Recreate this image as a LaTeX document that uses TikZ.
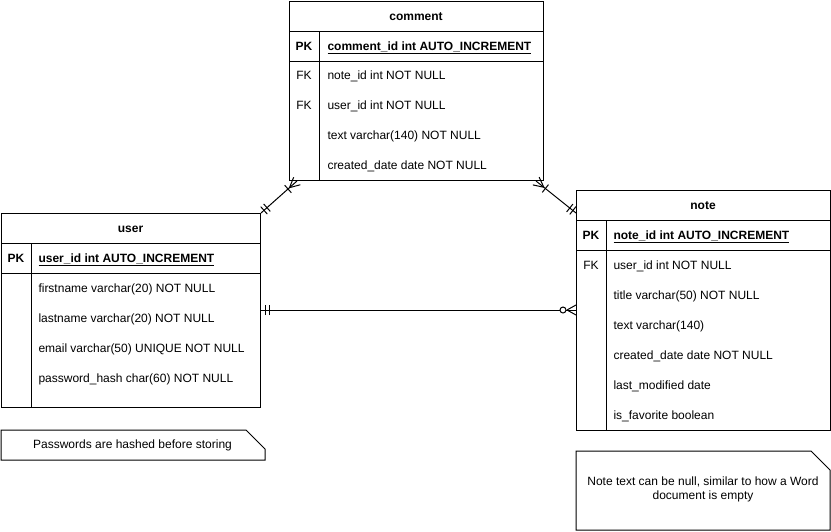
\documentclass[tikz,border=0pt]{standalone}
\usepackage{fontspec}
\setmainfont{Liberation Sans}
\usetikzlibrary{calc,decorations.markings}
\tikzset{
  tbox/.style={draw, line width=1pt, inner sep=0pt, anchor=north west},
  fld/.style={anchor=base west, inner sep=0pt},
  keylbl/.style={anchor=base, inner sep=0pt},
  hdr/.style={anchor=base, inner sep=0pt, font=\fontsize{12pt}{14pt}\selectfont\bfseries},
  notetxt/.style={anchor=base, inner sep=0pt, align=center},
  conn/.style={line width=1pt},
  mandone start/.style={postaction={decorate, decoration={markings,
      mark=at position 4pt with {\draw[line width=1pt] (0pt,-5pt) -- (0pt,5pt);},
      mark=at position 8pt with {\draw[line width=1pt] (0pt,-5pt) -- (0pt,5pt);}}}},
  onemany end/.style={postaction={decorate, decoration={markings,
      mark=at position -12pt with {\draw[line width=1pt] (0pt,-5pt) -- (0pt,5pt);},
      mark=at position -10pt with {\draw[line width=1pt] (0pt,0pt) -- (10pt,5pt) (0pt,0pt) -- (10pt,-5pt);}}}},
  zeromany end/.style={postaction={decorate, decoration={markings,
      mark=at position -13pt with {\draw[line width=1pt, fill=white] (0pt,0pt) circle[radius=3pt];},
      mark=at position -9pt with {\draw[line width=1pt] (0pt,0pt) -- (9pt,5pt) (0pt,0pt) -- (9pt,-5pt);}}}},
}
\begin{document}
\begin{tikzpicture}[x=1pt, y=-1pt, line width=1pt, font=\fontsize{12pt}{14pt}\selectfont]
\useasboundingbox (0,0) rectangle (831,531);

% ---------- comment table ----------
\node[tbox, minimum width=254pt, minimum height=179pt] (comment) at (289,1) {};
\draw (289,31) -- (543,31);
\draw (289,61) -- (543,61);
\draw (319,31) -- (319,180);
\node[hdr] (commenthdr) at (416,20.3) {comment};
\node[keylbl, font=\fontsize{12pt}{14pt}\selectfont\bfseries] (cpk) at (304,50.3) {PK};
\node[fld, font=\fontsize{12pt}{14pt}\selectfont\bfseries] (cf0) at (327,50.3) {\underline{comment\_id int AUTO\_INCREMENT}};
\node[keylbl] (cfk1) at (304,79.3) {FK};
\node[fld] (cf1) at (327,79.3) {note\_id int NOT NULL};
\node[keylbl] (cfk2) at (304,109.3) {FK};
\node[fld] (cf2) at (327,109.3) {user\_id int NOT NULL};
\node[fld] (cf3) at (327,139.3) {text varchar(140) NOT NULL};
\node[fld] (cf4) at (327,169.3) {created\_date date NOT NULL};

% ---------- user table ----------
\node[tbox, minimum width=259pt, minimum height=194pt] (user) at (1,213) {};
\draw (1,243) -- (260,243);
\draw (1,273) -- (260,273);
\draw (31,243) -- (31,407);
\node[hdr] (userhdr) at (130.5,232.3) {user};
\node[keylbl, font=\fontsize{12pt}{14pt}\selectfont\bfseries] (upk) at (16,262.3) {PK};
\node[fld, font=\fontsize{12pt}{14pt}\selectfont\bfseries] (uf0) at (38,262.3) {\underline{user\_id int AUTO\_INCREMENT}};
\node[fld] (uf1) at (38,292.3) {firstname varchar(20) NOT NULL};
\node[fld] (uf2) at (38,322.3) {lastname varchar(20) NOT NULL};
\node[fld] (uf3) at (38,352.3) {email varchar(50) UNIQUE NOT NULL};
\node[fld] (uf4) at (38,382.3) {password\_hash char(60) NOT NULL};

% ---------- note table ----------
\node[tbox, minimum width=254pt, minimum height=240pt] (note) at (576,190) {};
\draw (576,220) -- (830,220);
\draw (576,250) -- (830,250);
\draw (606,220) -- (606,430);
\node[hdr] (notehdr) at (703,209.3) {note};
\node[keylbl, font=\fontsize{12pt}{14pt}\selectfont\bfseries] (npk) at (591,239.3) {PK};
\node[fld, font=\fontsize{12pt}{14pt}\selectfont\bfseries] (nf0) at (613,239.3) {\underline{note\_id int AUTO\_INCREMENT}};
\node[keylbl] (nfk1) at (591,269.3) {FK};
\node[fld] (nf1) at (613,269.3) {user\_id int NOT NULL};
\node[fld] (nf2) at (613,299.3) {title varchar(50) NOT NULL};
\node[fld] (nf3) at (613,329.3) {text varchar(140)};
\node[fld] (nf4) at (613,359.3) {created\_date date NOT NULL};
\node[fld] (nf5) at (613,389.3) {last\_modified date};
\node[fld] (nf6) at (613,419.3) {is\_favorite boolean};

% ---------- notes ----------
\draw (1,430) -- (246,430) -- (265,449) -- (265,460) -- (1,460) -- cycle;
\node[notetxt] (memo1) at (132.5,448.3) {Passwords are hashed before storing};
\draw (576,451) -- (811,451) -- (830,470) -- (830,530) -- (576,530) -- cycle;
\node[notetxt] (memo2a) at (703,485.3) {Note text can be null, similar to how a Word};
\node[notetxt] (memo2b) at (703,499.3) {document is empty};

% ---------- connectors ----------
\coordinate (cA) at ($(comment.south west)+(8,0)$);
\coordinate (cB) at ($(comment.south east)+(-8,0)$);
\coordinate (nB) at ($(note.north west)+(0,23)$);
\coordinate (uC) at ($(user.north east)+(0,97)$);
\coordinate (nC) at ($(note.north west)+(0,120)$);
\draw[conn, mandone start, onemany end] (user.north east) -- (cA);
\draw[conn, mandone start, onemany end] (nB) -- (cB);
\draw[conn, mandone start, zeromany end] (uC) -- (nC);
\end{tikzpicture}
\end{document}
